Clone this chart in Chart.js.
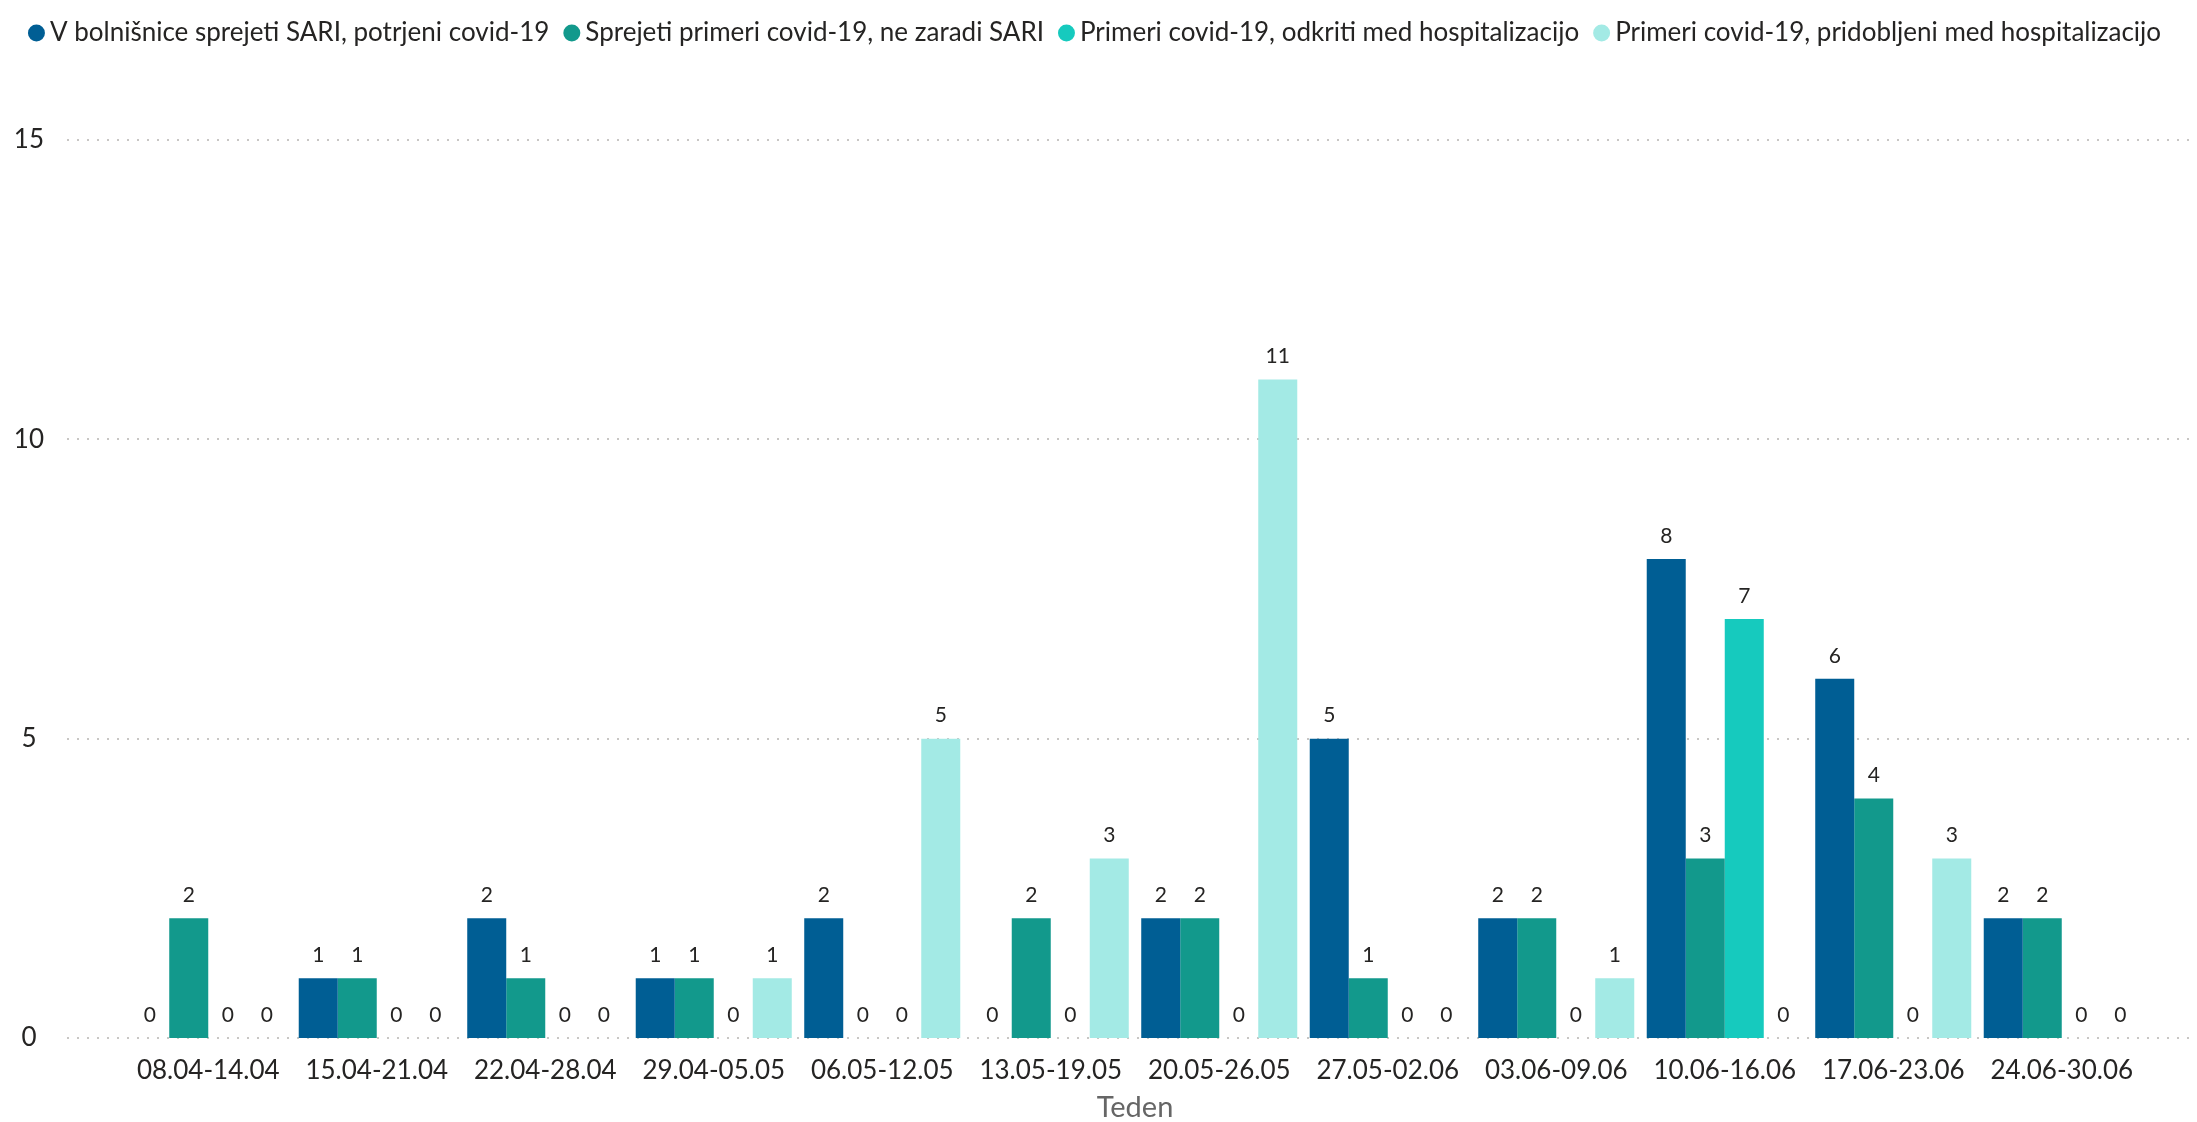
<!DOCTYPE html>
<html>
<head>
<meta charset="utf-8">
<script src="https://cdn.jsdelivr.net/npm/chart.js@4/dist/chart.umd.min.js"></script>
<style>
  html, body { margin: 0; padding: 0; background: #fff; }
  #wrap { width: 2197px; height: 1122px; }
</style>
</head>
<body>
<div id="wrap"><canvas id="chart" width="2197" height="1122"></canvas></div>
<script>
// tedni
const weeks = ['08.04-14.04', '15.04-21.04', '22.04-28.04', '29.04-05.05', '06.05-12.05', '13.05-19.05',
               '20.05-26.05', '27.05-02.06', '03.06-09.06', '10.06-16.06', '17.06-23.06', '24.06-30.06'];

// serije
const sariPotrjeni   = [0, 1, 2, 1, 2, 0, 2, 5, 2, 8, 6, 2];
const neZaradiSari   = [2, 1, 1, 1, 0, 2, 2, 1, 2, 3, 4, 2];
const odkritiMedHosp = [0, 0, 0, 0, 0, 0, 0, 0, 0, 7, 0, 0];
const pridobljeniHosp = [0, 0, 0, 1, 5, 3, 11, 0, 1, 0, 3, 0];

const yTicks = [0, 5, 10, 15];

const FONT = 'Lato, "Open Sans", sans-serif';
const TXT = '#252423';

// pikčaste mrežne črte čez celo širino (kot v Power BI)
const dottedGrid = {
    id: 'dottedGrid',
    beforeDatasetsDraw(chart) {
        const { ctx } = chart;
        const y = chart.scales.y;
        ctx.save();
        ctx.strokeStyle = '#c8c6c4';
        ctx.lineWidth = 2;
        ctx.setLineDash([2, 8]);
        yTicks.forEach(v => {
            const py = Math.round(y.getPixelForValue(v));
            ctx.beginPath();
            ctx.moveTo(67, py);
            ctx.lineTo(2193, py);
            ctx.stroke();
        });
        ctx.restore();
    }
};

// vrednosti nad stolpci (tudi ničle)
const valueLabels = {
    id: 'valueLabels',
    afterDatasetsDraw(chart) {
        const { ctx } = chart;
        ctx.save();
        ctx.font = '21px ' + FONT;
        ctx.fillStyle = TXT;
        ctx.textAlign = 'center';
        ctx.textBaseline = 'middle';
        chart.data.datasets.forEach((ds, i) => {
            chart.getDatasetMeta(i).data.forEach((bar, j) => {
                ctx.fillText(String(ds.data[j]), bar.x, bar.y - 23);
            });
        });
        ctx.restore();
    }
};

// fiksna višina legende, da se risalna ploskev začne na pravem mestu
const legendHeight = {
    id: 'legendHeight',
    beforeInit(chart) {
        const lg = chart.legend;
        if (!lg) return;
        const orig = lg.fit;
        lg.fit = function () {
            orig.call(this);
            this.height = 142;
        };
    }
};

new Chart(document.getElementById('chart'), {
    type: 'bar',
    data: {
        labels: weeks,
        datasets: [
            { label: 'V bolnišnice sprejeti SARI, potrjeni covid-19', data: sariPotrjeni, backgroundColor: '#005e94' },
            { label: 'Sprejeti primeri covid-19, ne zaradi SARI', data: neZaradiSari, backgroundColor: '#12998c' },
            { label: 'Primeri covid-19, odkriti med hospitalizacijo', data: odkritiMedHosp, backgroundColor: '#16cabe' },
            { label: 'Primeri covid-19, pridobljeni med hospitalizacijo', data: pridobljeniHosp, backgroundColor: '#a3eae5' }
        ]
    },
    options: {
        responsive: false,
        animation: false,
        layout: { padding: { top: -2, left: 0, right: 0, bottom: 0 } },
        datasets: { bar: { categoryPercentage: 0.926, barPercentage: 1.0, borderWidth: 0 } },
        plugins: {
            legend: {
                position: 'top',
                labels: {
                    usePointStyle: true,
                    pointStyle: 'circle',
                    boxWidth: 1,
                    boxHeight: 12,
                    padding: 22,
                    color: TXT,
                    font: { family: FONT, size: 26 }
                }
            },
            tooltip: { enabled: false }
        },
        scales: {
            x: {
                grid: { display: false },
                border: { display: false },
                ticks: {
                    autoSkip: false, maxRotation: 0, minRotation: 0,
                    padding: 9,
                    color: TXT,
                    font: { family: FONT, size: 26 }
                },
                title: {
                    display: true, text: 'Teden', color: '#666666',
                    font: { family: FONT, size: 29, lineHeight: 1 },
                    padding: { top: 0, bottom: 0 }
                },
                afterFit(scale) { scale.height = 84; }
            },
            y: {
                min: 0, max: 15,
                // dolžina (nevidnih) oznak odmakne napise levo
                grid: { display: false, drawTicks: true, tickLength: 70 },
                border: { display: false },
                ticks: {
                    stepSize: 5,
                    crossAlign: 'center',
                    padding: 10,
                    color: TXT,
                    font: { family: FONT, size: 26 }
                },
                afterFit(scale) { scale.width = 124; }
            },
            // prazen desni rob
            yRight: {
                position: 'right',
                grid: { display: false },
                border: { display: false },
                ticks: { display: false },
                afterFit(scale) { scale.width = 51; }
            }
        }
    },
    plugins: [dottedGrid, valueLabels, legendHeight]
});
</script>
</body>
</html>
